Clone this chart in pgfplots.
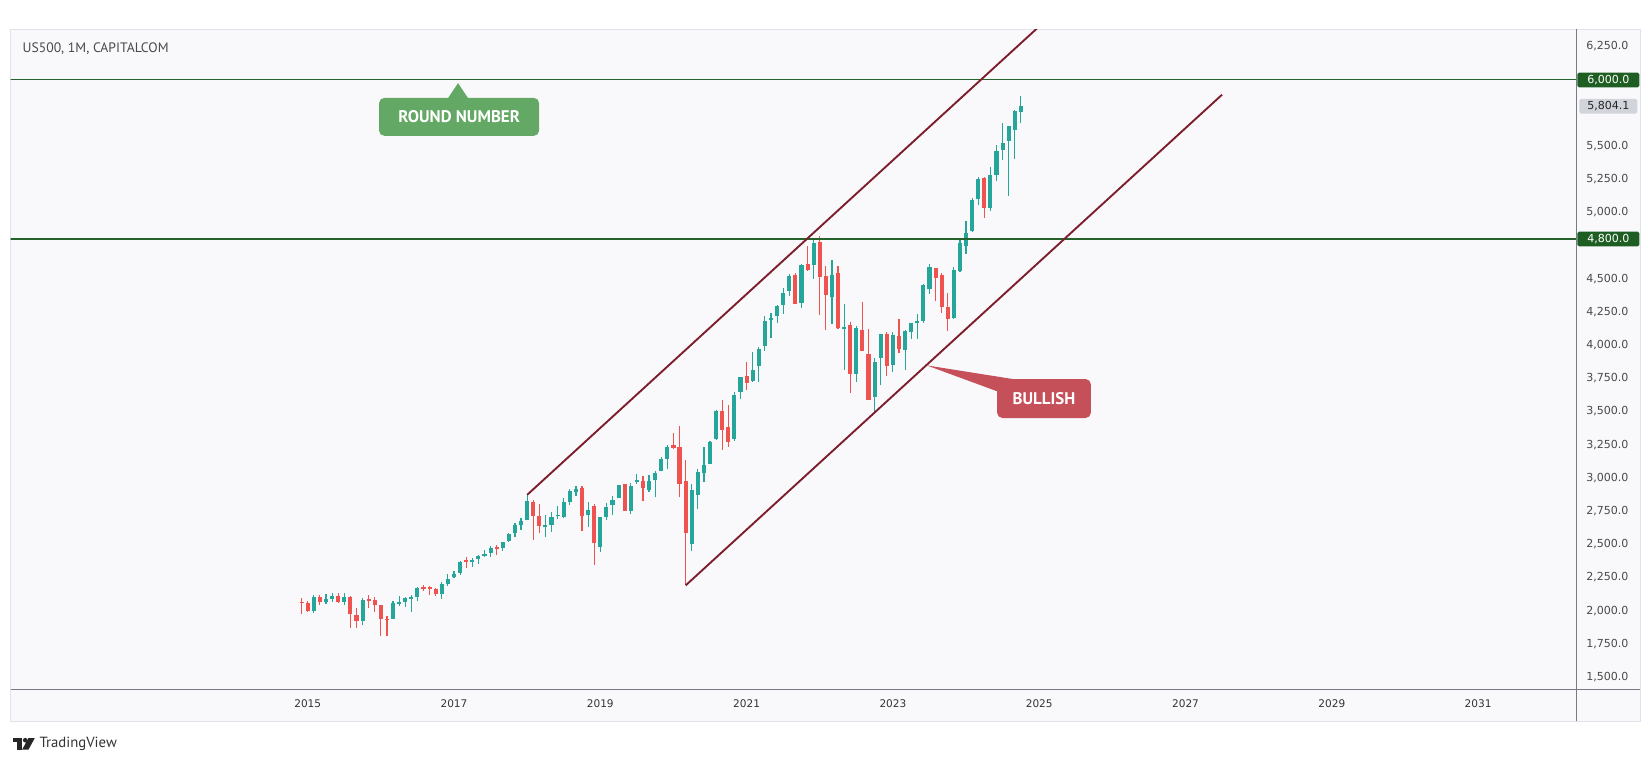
\documentclass[border=0pt]{standalone}
\usepackage{pgfplots}
\pgfplotsset{compat=1.18}
\usepackage{pgfplotstable}
\usepackage{fontspec}
\setmainfont{PT Sans}
\newfontfamily\dvs{DejaVu Sans}

\definecolor{upc}{HTML}{26A69A}
\definecolor{dnc}{HTML}{EF5350}
\definecolor{chan}{HTML}{7D1E2C}
\definecolor{lvl}{HTML}{26622B}
\definecolor{lvlbadge}{HTML}{1E5E22}
\definecolor{bgc}{HTML}{F9F9FB}
\definecolor{framec}{HTML}{E0E3EB}
\definecolor{axc}{HTML}{787B86}
\definecolor{txtc}{HTML}{4A4A4A}
\definecolor{callg}{HTML}{63A865}
\definecolor{callr}{HTML}{C6505A}

% monthly candles, m = months since Jan 2015
\pgfplotstableread{
m o h l c
-1 2065 2093 1972 2059
0 2058 2072 1988 1995
1 1996 2120 1980 2105
2 2105 2118 2039 2068
3 2067 2126 2048 2086
4 2088 2135 2068 2107
5 2109 2130 2057 2063
6 2067 2133 2044 2104
7 2105 2113 1867 1972
8 1970 2021 1872 1920
9 1919 2094 1893 2079
10 2081 2117 2019 2080
11 2082 2104 1993 2044
12 2039 2039 1812 1940
13 1937 1963 1810 1932
14 1937 2073 1937 2060
15 2057 2111 2034 2065
16 2068 2103 2025 2097
17 2093 2120 1992 2099
18 2099 2178 2075 2174
19 2173 2194 2147 2171
20 2171 2187 2120 2168
21 2164 2169 2114 2126
22 2129 2214 2084 2199
23 2201 2278 2187 2239
24 2251 2301 2245 2279
25 2285 2371 2271 2364
26 2381 2401 2322 2363
27 2363 2398 2328 2384
28 2388 2418 2353 2412
29 2415 2454 2405 2423
30 2431 2484 2407 2470
31 2477 2491 2417 2472
32 2474 2519 2446 2519
33 2521 2582 2520 2575
34 2583 2657 2557 2648
35 2645 2695 2605 2674
36 2683 2873 2682 2824
37 2816 2835 2533 2714
38 2715 2801 2585 2641
39 2633 2718 2553 2648
40 2643 2742 2594 2705
41 2718 2791 2691 2718
42 2704 2848 2699 2816
43 2821 2916 2796 2902
44 2897 2941 2864 2914
45 2926 2940 2603 2712
46 2718 2816 2631 2760
47 2790 2800 2347 2507
48 2476 2708 2444 2704
49 2703 2813 2682 2784
50 2798 2860 2722 2834
51 2848 2949 2848 2946
52 2952 2954 2751 2752
53 2751 2964 2729 2942
54 2971 3028 2953 2980
55 2980 3014 2822 2926
56 2910 3022 2892 2977
57 2983 3050 2855 3038
58 3050 3156 3050 3141
59 3144 3248 3070 3231
60 3244 3338 3214 3226
61 3235 3394 2855 2954
62 2974 3137 2192 2585
63 2499 2954 2447 2912
64 2869 3068 2767 3044
65 3038 3233 2966 3100
66 3105 3280 3101 3271
67 3289 3514 3284 3500
68 3507 3588 3210 3363
69 3385 3549 3234 3270
70 3296 3646 3280 3622
71 3645 3760 3595 3756
72 3764 3870 3663 3714
73 3732 3951 3725 3811
74 3842 3983 3723 3973
75 3992 4218 3955 4181
76 4192 4238 4056 4204
77 4217 4302 4165 4298
78 4301 4429 4233 4395
79 4406 4538 4367 4523
80 4528 4546 4306 4308
81 4317 4608 4279 4605
82 4610 4744 4560 4567
83 4602 4808 4495 4766
84 4778 4819 4223 4516
85 4519 4595 4115 4374
86 4363 4637 4157 4530
87 4540 4593 4124 4132
88 4131 4307 3811 4132
89 4149 4177 3637 3785
90 3781 4140 3721 4130
91 4112 4325 3955 3955
92 3936 4119 3585 3586
93 3609 3905 3492 3872
94 3901 4080 3699 4080
95 4087 4101 3765 3840
96 3853 4095 3795 4077
97 4070 4195 3943 3970
98 3964 4110 3809 4109
99 4102 4170 4049 4169
100 4166 4232 4048 4180
101 4181 4459 4167 4450
102 4422 4607 4385 4589
103 4578 4584 4335 4508
104 4530 4541 4238 4288
105 4284 4393 4103 4194
106 4201 4587 4197 4568
107 4559 4794 4547 4770
108 4743 4932 4683 4846
109 4861 5111 4853 5096
110 5098 5265 5056 5254
111 5258 5264 4954 5036
112 5029 5342 5012 5278
113 5283 5506 5235 5460
114 5471 5669 5391 5522
115 5537 5651 5119 5648
116 5623 5767 5402 5762
117 5758 5878 5674 5804
}\candles

\pgfplotsset{
  wick/.style={draw=none, mark=none, forget plot,
    error bars/.cd, y dir=both, y explicit, error mark=none,
    error bar style={draw=#1, line width=1.1pt}, /pgfplots/.cd},
  body/.style={draw=none, mark=none, forget plot,
    error bars/.cd, y dir=both, y explicit, error mark=none,
    error bar style={draw=#1, line width=3.9pt}, /pgfplots/.cd},
}

\begin{document}
\begin{tikzpicture}[x=1pt,y=1pt]
\fill[white] (0,0) rectangle (1568,722);
\filldraw[fill=bgc, draw=framec, line width=1pt] (10,37) rectangle (1558,694);

\begin{axis}[
  at={(10pt,67pt)}, anchor=south west,
  scale only axis, width=1487pt, height=627pt,
  xmin=-48.75, xmax=208.1, ymin=1404.8, ymax=6376.9,
  axis x line*=bottom, axis y line*=right,
  axis line style={draw=axc, line width=1pt},
  major tick length=0pt,
  xtick={0,24,...,192},
  xticklabels={2015,2017,2019,2021,2023,2025,2027,2029,2031},
  xticklabel style={font=\dvs\fontsize{10}{10}\selectfont, text=black!80, yshift=-6pt},
  ytick={1500,1750,2000,2250,2500,2750,3000,3250,3500,3750,4000,4250,4500,5000,5250,5500,6250},
  scaled y ticks=false,
  yticklabel style={font=\dvs\fontsize{10.5}{10.5}\selectfont, text=txtc, xshift=6pt,
    /pgf/number format/.cd, fixed, fixed zerofill, precision=1, 1000 sep={,}, assume math mode=true},
]
% wicks
\addplot[restrict expr to domain={\thisrow{c}-\thisrow{o}}{0:100000}, wick=upc]
  table[x=m, y expr={(\thisrow{h}+\thisrow{l})/2}, y error expr={(\thisrow{h}-\thisrow{l})/2}] {\candles};
\addplot[restrict expr to domain={\thisrow{o}-\thisrow{c}}{0.001:100000}, wick=dnc]
  table[x=m, y expr={(\thisrow{h}+\thisrow{l})/2}, y error expr={(\thisrow{h}-\thisrow{l})/2}] {\candles};
% bodies
\addplot[restrict expr to domain={\thisrow{c}-\thisrow{o}}{0:100000}, body=upc]
  table[x=m, y expr={(\thisrow{o}+\thisrow{c})/2}, y error expr={max(abs(\thisrow{c}-\thisrow{o})/2,5)}] {\candles};
\addplot[restrict expr to domain={\thisrow{o}-\thisrow{c}}{0.001:100000}, body=dnc]
  table[x=m, y expr={(\thisrow{o}+\thisrow{c})/2}, y error expr={max(abs(\thisrow{c}-\thisrow{o})/2,5)}] {\candles};

% key levels
\draw[lvl, line width=1.6pt] (axis cs:-60,6000) -- (axis cs:220,6000);
\draw[lvl, line width=1.6pt] (axis cs:-60,4800) -- (axis cs:220,4800);
% rising channel
\draw[chan, line width=1.8pt] (axis cs:36,2872) -- (axis cs:125,6610);
\draw[chan, line width=1.8pt] (axis cs:62,2190) -- (axis cs:150,5886);
\end{axis}

% price / time scale separators
\draw[axc, line width=1pt] (1497,37) -- (1497,694);
\draw[axc, line width=1pt] (1497,67) -- (1558,67);

% price badges
\fill[lvlbadge, rounded corners=1.5pt] (1498,639) rectangle (1557,653);
\node[text=white, font=\dvs\fontsize{10.5}{10.5}\selectfont] at (1527.5,646) {6,000.0};
\fill[lvlbadge, rounded corners=1.5pt] (1498,488) rectangle (1557,502);
\node[text=white, font=\dvs\fontsize{10.5}{10.5}\selectfont] at (1527.5,495) {4,800.0};
\fill[framec!85!gray, rounded corners=1.5pt] (1500,614) rectangle (1555,628);
\node[text=black!85, font=\dvs\fontsize{10.5}{10.5}\selectfont] at (1527.5,621) {5,804.1};

% title
\node[anchor=west, text=txtc, font=\fontsize{13}{13}\selectfont] at (18,676) {US500, 1M, CAPITALCOM};

% ROUND NUMBER callout
\fill[callg] (425,628) -- (435,643) -- (445,628) -- cycle;
\fill[callg, rounded corners=5pt] (360,593) rectangle (512,629);
\node[text=white, font=\bfseries\fontsize{16}{16}\selectfont] at (436,611) {ROUND NUMBER};

% BULLISH callout
\fill[callr] (880,375) -- (962,362) -- (948,350) -- cycle;
\fill[callr, rounded corners=5pt] (947,325) rectangle (1036,362);
\node[text=white, font=\bfseries\fontsize{16}{16}\selectfont] at (991.5,343.5) {BULLISH};

% TradingView mark
\fill[black!85] (12,17) rectangle (21,21);
\fill[black!85] (16,10) rectangle (21,21);
\fill[black!85] (24,19) circle (2.2);
\fill[black!85] (27,21) -- (33,21) -- (27,10) -- (21,10) -- cycle;
\node[anchor=west, text=black!80, font=\fontsize{14}{14}\selectfont] at (34,16) {TradingView};
\end{tikzpicture}
\end{document}
